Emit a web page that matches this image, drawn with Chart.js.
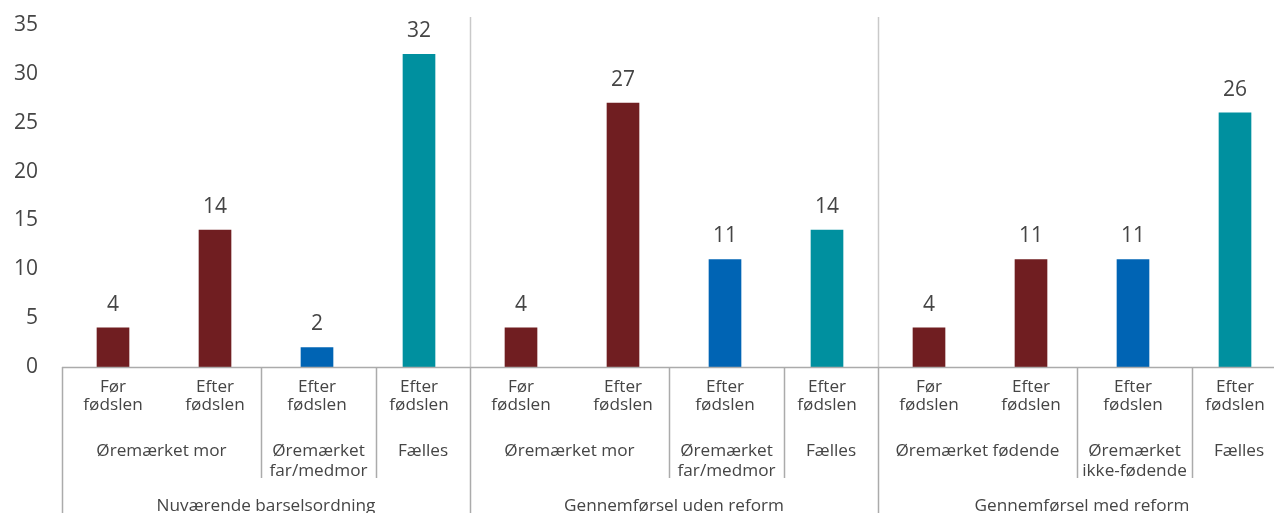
<!DOCTYPE html>
<html>
<head>
<meta charset="utf-8">
<script src="https://cdn.jsdelivr.net/npm/chart.js@4"></script>
<style>
  html, body { margin: 0; padding: 0; overflow: hidden; background: #fff; }
  #wrap { width: 1290px; height: 530px; position: relative; }
</style>
</head>
<body>
<div id="wrap"><canvas id="chart"></canvas></div>
<script>
// Data
const categories = [
  ['Før', 'fødslen'], ['Efter', 'fødslen'], ['Efter', 'fødslen'], ['Efter', 'fødslen'],
  ['Før', 'fødslen'], ['Efter', 'fødslen'], ['Efter', 'fødslen'], ['Efter', 'fødslen'],
  ['Før', 'fødslen'], ['Efter', 'fødslen'], ['Efter', 'fødslen'], ['Efter', 'fødslen']
];
const values = [4, 14, 2, 32, 4, 27, 11, 14, 4, 11, 11, 26];
const barTypes = ['mor', 'mor', 'far', 'faelles', 'mor', 'mor', 'far', 'faelles', 'mor', 'mor', 'far', 'faelles'];

// second level: label lines + number of categories it covers
const subGroups = [
  [['Øremærket mor'], 2], [['Øremærket', 'far/medmor'], 1], [['Fælles'], 1],
  [['Øremærket mor'], 2], [['Øremærket', 'far/medmor'], 1], [['Fælles'], 1],
  [['Øremærket fødende'], 2], [['Øremærket', 'ikke-fødende'], 1], [['Fælles'], 1]
];
// third level
const groups = [
  ['Nuværende barselsordning', 4],
  ['Gennemførsel uden reform', 4],
  ['Gennemførsel med reform', 4]
];
const yTicks = [0, 5, 10, 15, 20, 25, 30, 35];

const typeColors = { mor: '#701e21', far: '#0064b4', faelles: '#00909f' };
const textColor = '#454545';
const fontFam = "'Open Sans', sans-serif";
// small nudges of the sub-group dividers, like in the original
const subSepNudge = [-0.05, 0.08];

const axisPlugin = {
  id: 'multiAxis',
  afterDraw(chart) {
    const ctx = chart.ctx;
    const x = chart.scales.x;
    const area = chart.chartArea;
    const y0 = chart.scales.y.getPixelForValue(0);
    const bottom = chart.height;
    ctx.save();

    // vertical group dividers inside the plot
    ctx.strokeStyle = '#c9c9c9';
    ctx.lineWidth = 1.5;
    let idx = 0;
    groups.forEach((g, gi) => {
      idx += g[1];
      if (gi < groups.length - 1) {
        const px = Math.round(x.getPixelForValue(idx - 0.5)) + 0.5;
        ctx.beginPath();
        ctx.moveTo(px, area.top - 8);
        ctx.lineTo(px, y0);
        ctx.stroke();
      }
    });

    // axis line
    ctx.strokeStyle = '#ababab';
    ctx.lineWidth = 1.5;
    ctx.beginPath();
    ctx.moveTo(area.left, y0 + 0.5);
    ctx.lineTo(chart.width, y0 + 0.5);
    ctx.stroke();

    // full-height dividers below axis
    idx = 0;
    const fullSeps = [-0.5];
    groups.forEach(g => { idx += g[1]; fullSeps.push(idx - 0.5); });
    fullSeps.forEach(v => {
      const px = Math.round(x.getPixelForValue(v)) + 0.5;
      ctx.beginPath();
      ctx.moveTo(px, y0);
      ctx.lineTo(px, bottom);
      ctx.stroke();
    });

    // sub-group dividers and labels
    ctx.fillStyle = textColor;
    ctx.textAlign = 'center';
    ctx.textBaseline = 'middle';
    ctx.font = '17.2px ' + fontFam;
    idx = 0;
    subGroups.forEach((sg, si) => {
      const posInGroup = si % 3;
      let start = idx - 0.5;
      let end = idx + sg[1] - 0.5;
      if (posInGroup === 1) { start += subSepNudge[0]; end += subSepNudge[1]; }
      if (posInGroup === 2) { start += subSepNudge[1]; }
      if (posInGroup === 0) { end += subSepNudge[0]; }
      const x1 = x.getPixelForValue(start);
      const x2 = x.getPixelForValue(end);
      if (posInGroup > 0) {
        const px = Math.round(x1) + 0.5;
        ctx.beginPath();
        ctx.moveTo(px, y0);
        ctx.lineTo(px, y0 + 111);
        ctx.stroke();
      }
      sg[0].forEach((line, li) => {
        ctx.fillText(line, (x1 + x2) / 2, y0 + 84 + li * 20);
      });
      idx += sg[1];
    });

    // category labels
    categories.forEach((lines, i) => {
      const cx = x.getPixelForValue(i);
      lines.forEach((line, li) => {
        ctx.fillText(line, cx, y0 + 20 + li * 18);
      });
    });

    // group labels
    idx = 0;
    groups.forEach(g => {
      const x1 = x.getPixelForValue(idx - 0.5);
      const x2 = x.getPixelForValue(idx + g[1] - 0.5);
      ctx.fillText(g[0], (x1 + x2) / 2, y0 + 139);
      idx += g[1];
    });

    ctx.restore();
  },
  afterDatasetsDraw(chart) {
    const ctx = chart.ctx;
    const meta = chart.getDatasetMeta(0);
    ctx.save();
    ctx.fillStyle = textColor;
    ctx.font = '21px ' + fontFam;
    ctx.textAlign = 'center';
    ctx.textBaseline = 'middle';
    meta.data.forEach((bar, i) => {
      ctx.fillText(String(values[i]), bar.x, bar.y - 23);
    });
    ctx.restore();
  }
};

new Chart(document.getElementById('chart'), {
  type: 'bar',
  data: {
    labels: categories.map(c => c.join(' ')),
    datasets: [{
      data: values,
      backgroundColor: barTypes.map(t => typeColors[t]),
      barThickness: 32,
      borderWidth: 0
    }]
  },
  options: {
    responsive: true,
    maintainAspectRatio: false,
    animation: false,
    layout: { padding: { left: 0, right: 4, top: 25, bottom: 0 }, autoPadding: false },
    plugins: {
      legend: { display: false },
      tooltip: { enabled: false }
    },
    scales: {
      x: {
        grid: { display: false, drawTicks: false },
        border: { display: false },
        ticks: { display: false },
        afterFit(scale) { scale.height = 163; }
      },
      y: {
        min: 0,
        max: 35,
        grid: { display: false, drawTicks: false },
        border: { display: false },
        afterBuildTicks(scale) { scale.ticks = yTicks.map(v => ({ value: v })); },
        ticks: {
          padding: 24,
          color: textColor,
          font: { family: fontFam, size: 21 }
        },
        afterFit(scale) {
          scale.width = 62;
          scale.paddingTop = 0;
          scale.paddingBottom = 0;
        }
      }
    }
  },
  plugins: [axisPlugin]
});
</script>
</body>
</html>
